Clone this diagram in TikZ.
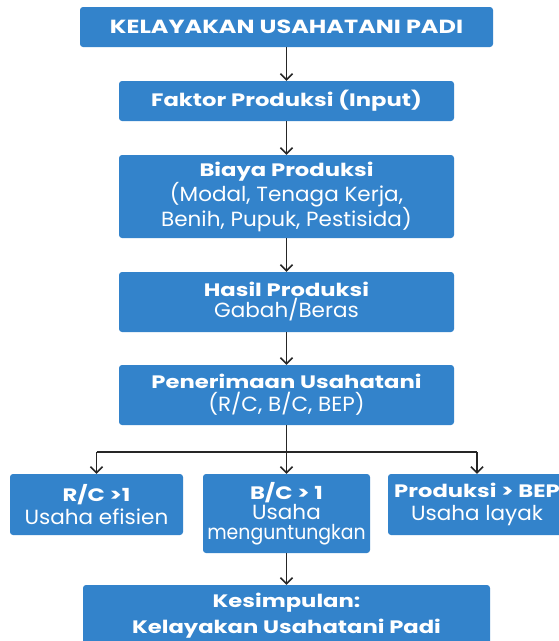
\documentclass[tikz,border=0pt]{standalone}
\usepackage{fontspec}
\setmainfont{Poppins}[FakeStretch=1.05,BoldFeatures={FakeStretch=1.26}]
\usetikzlibrary{arrows.meta}
\definecolor{kotak}{HTML}{3383CB}
\newcommand{\tebal}[1]{{\fontsize{18}{23}\bfseries #1}}
\tikzset{blok/.style={fill=kotak,rounded corners=3pt,text=white,align=center,inner sep=0pt,font=\fontsize{20.5}{23}\selectfont}}
\tikzset{garis/.style={draw=black!85,line width=1.5pt}}
\tikzset{panah/.style={garis,-{Straight Barb[length=6pt,width=12pt]}}}

\begin{document}
\begin{tikzpicture}[x=1pt,y=-1pt]
  \useasboundingbox (0,0) rectangle (559,641);
  % alur utama
  \node[blok,minimum width=413pt,minimum height=40pt] (judul) at (286.5,27) {{\fontsize{19}{23}\bfseries KELAYAKAN USAHATANI PADI}};
  \node[blok,minimum width=335pt,minimum height=40pt] (faktor) at (286.5,101) {\tebal{Faktor Produksi (Input)}};
  \node[blok,minimum width=335pt,minimum height=83pt,font=\fontsize{20.5}{25}\selectfont] (biaya) at (286.5,196.5) {\tebal{Biaya Produksi}\\(Modal, Tenaga Kerja,\\Benih, Pupuk, Pestisida)};
  \node[blok,minimum width=335pt,minimum height=60pt,font=\fontsize{20.5}{21}\selectfont] (hasil) at (286.5,302) {\tebal{Hasil Produksi}\\Gabah/Beras};
  \node[blok,minimum width=335pt,minimum height=60pt] (terima) at (286.5,395) {\tebal{Penerimaan Usahatani}\\(R/C, B/C, BEP)};

  % tiga kriteria
  \node[blok,minimum width=173pt,minimum height=61pt] (rc) at (96.5,504.5) {\tebal{R/C >1}\\Usaha efisien};
  \node[blok,minimum width=167pt,minimum height=79pt,font=\fontsize{20.5}{20}\selectfont] (bc) at (286.5,513.5) {\tebal{B/C > 1}\\Usaha\\{\addfontfeature{FakeStretch=0.92}menguntungkan}};
  \node[blok,minimum width=178pt,minimum height=61pt] (bep) at (477,504.5) {\tebal{Produksi > BEP}\\Usaha layak};

  \node[blok,minimum width=407pt,minimum height=62pt,font=\fontsize{20.5}{26}\selectfont] (simpul) at (286.5,616) {\tebal{Kesimpulan:}\\\tebal{Kelayakan Usahatani Padi}};

  \coordinate (cabang) at (286.5,452);
  \coordinate (kiri) at (96.5,452);
  \coordinate (kanan) at (477,452);

  \draw[panah] (judul) -- (faktor);
  \draw[panah] (faktor) -- (biaya);
  \draw[panah] (biaya) -- (hasil);
  \draw[panah] (hasil) -- (terima);
  \draw[garis] (terima) -- (cabang);
  \draw[garis] (kiri) -- (kanan);
  \draw[panah] (kiri) -- (rc);
  \draw[panah] (cabang) -- (bc);
  \draw[panah] (kanan) -- (bep);
  \draw[panah] (bc) -- (simpul);
\end{tikzpicture}
\end{document}
